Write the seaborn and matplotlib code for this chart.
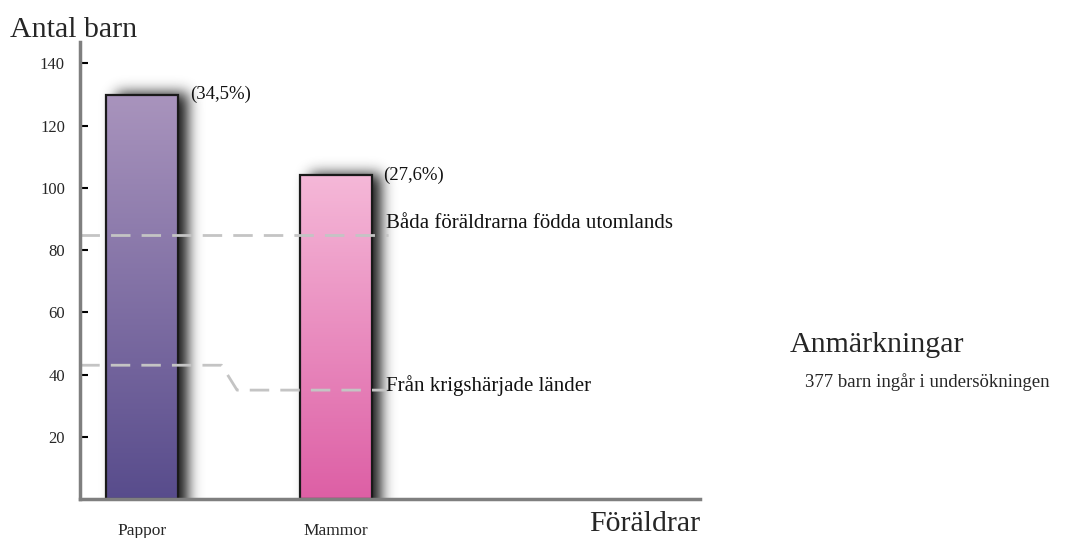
import numpy as np
import pandas as pd
import matplotlib
matplotlib.use("Agg")
import matplotlib.pyplot as plt
from matplotlib.patches import Rectangle
import seaborn as sns

# Data
parents = ["Pappor", "Mammor"]
children = [130, 104]
shares = ["(34,5%)", "(27,6%)"]
total_children = 377

both_abroad_x = [-0.32, 1.27]
both_abroad_y = [85, 85]
war_x = [-0.32, 0.41, 0.49, 1.27]
war_y = [43, 43, 35, 35]

yticks = [20, 40, 60, 80, 100, 120, 140]

top_colors = ["#a994bd", "#f5b8d8"]
bottom_colors = ["#584c8c", "#dd5fa5"]

sns.set_theme(style="white")
plt.rcParams["font.family"] = ["Liberation Serif", "DejaVu Serif"]

fig = plt.figure(figsize=(10.7, 5.38), dpi=100)
ax = fig.add_axes([0.075, 0.0725, 0.579, 0.85])

df = pd.DataFrame({"parent": parents, "children": children})
sns.barplot(data=df, x="parent", y="children", ax=ax, width=0.37,
            color="white", edgecolor="#1a1a1a", linewidth=1.4, zorder=3)

XMIN, XMAX, YMAX = -0.32, 2.88, 147
ax.set_xlim(XMIN, XMAX)
ax.set_ylim(0, YMAX)

# pixel scale of the data axes
px_x = 0.579 * 1070 / (XMAX - XMIN)
px_y = 0.85 * 538 / YMAX


def blur1d(a, sigma, axis):
    r = int(3 * sigma)
    k = np.exp(-0.5 * (np.arange(-r, r + 1) / sigma) ** 2)
    k /= k.sum()
    return np.apply_along_axis(lambda v: np.convolve(v, k, mode="same"), axis, a)


def add_shadow(x0, w, h, shift=10, lift=2, sigma=7, pad=40, strength=1.0):
    wp, hp = int(w * px_x), int(h * px_y)
    W, H = wp + 2 * pad, hp + 2 * pad
    mask = np.zeros((H, W))
    mask[:pad + hp + lift, pad + shift:pad + shift + wp] = 1.0
    mask = blur1d(blur1d(mask, sigma, 0), sigma, 1)
    rgba = np.zeros((H, W, 4))
    rgba[..., :3] = 0.08
    rgba[..., 3] = np.clip(mask * strength, 0, 1)
    ext = [x0 - pad / px_x, x0 + (wp + pad) / px_x,
           -pad / px_y, (hp + pad) / px_y]
    ax.imshow(rgba, extent=ext, origin="lower", aspect="auto", zorder=1,
              interpolation="bilinear")


bars = list(ax.patches)
for patch, c_top, c_bot in zip(bars, top_colors, bottom_colors):
    x0, y0 = patch.get_x(), patch.get_y()
    w, h = patch.get_width(), patch.get_height()
    add_shadow(x0, w, h)
    top = np.array(matplotlib.colors.to_rgb(c_top))
    bot = np.array(matplotlib.colors.to_rgb(c_bot))
    t = np.linspace(0, 1, 256)[:, None]
    grad = (bot * (1 - t) + top * t)[:, None, :]
    im = ax.imshow(grad, extent=[x0, x0 + w, y0, y0 + h], origin="lower",
                   aspect="auto", zorder=3.5)
    im.set_clip_path(patch)
    ax.add_patch(Rectangle((x0, y0), w, h, facecolor="none",
                           edgecolor="#1a1a1a", linewidth=1.6, zorder=4))

ax.set_xlim(XMIN, XMAX)
ax.set_ylim(0, YMAX)

for patch, lab in zip(bars, shares):
    ax.text(patch.get_x() + patch.get_width() + 0.06, patch.get_height(),
            lab, fontsize=13.5, ha="left", va="center", color="#111111")

# reference lines
ax.plot(both_abroad_x, both_abroad_y, color="#c4c4c4", lw=2,
        dashes=(7, 4), zorder=5)
ax.plot(war_x, war_y, color="#c4c4c4", lw=2, dashes=(7, 4), zorder=5)
ax.text(1.26, 88.5, "Båda föräldrarna födda utomlands", fontsize=15,
        ha="left", va="center", color="#111111", zorder=6)
ax.text(1.26, 36.5, "Från krigshärjade länder", fontsize=15,
        ha="left", va="center", color="#111111", zorder=6)

# axes styling
for s in ["top", "right"]:
    ax.spines[s].set_visible(False)
for s in ["left", "bottom"]:
    ax.spines[s].set_color("#7f7f7f")
    ax.spines[s].set_linewidth(2.5)
    ax.spines[s].set_zorder(7)
ax.set_yticks(yticks)
ax.set_yticklabels([str(v) for v in yticks], fontsize=12)
ax.tick_params(axis="y", direction="in", length=6, width=1.5,
               color="black", pad=11, left=True)
ax.tick_params(axis="x", length=0, pad=17, labelsize=12.5)
ax.set_xlabel("")
ax.set_ylabel("")

fig.text(0.009, 0.945, "Antal barn", fontsize=21.5, ha="left", va="center")
fig.text(0.654, 0.026, "Föräldrar", fontsize=21.5, ha="right", va="center")
fig.text(0.738, 0.358, "Anmärkningar", fontsize=21.5, ha="left", va="center")
fig.text(0.752, 0.29, f"{total_children} barn ingår i undersökningen",
         fontsize=13.5, ha="left", va="center")

fig.savefig("out.png", dpi=100, facecolor="white")
